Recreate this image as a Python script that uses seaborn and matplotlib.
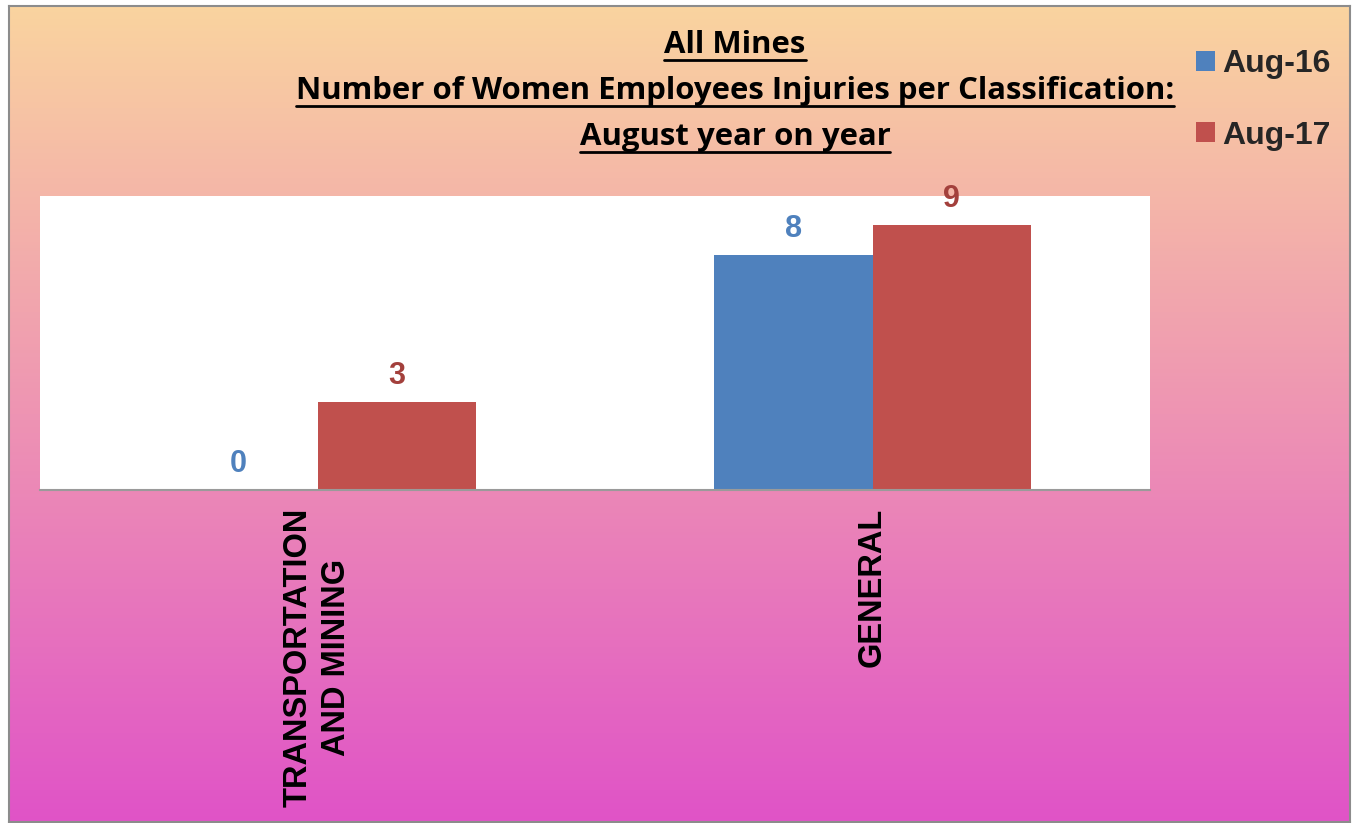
import numpy as np
import pandas as pd
import matplotlib
matplotlib.use("Agg")
import matplotlib.pyplot as plt
from matplotlib.colors import LinearSegmentedColormap
from matplotlib.patches import Patch
from matplotlib.lines import Line2D
import seaborn as sns

# ---- data ----
categories = ["TRANSPORTATION\nAND MINING", "GENERAL"]
series = ["Aug-16", "Aug-17"]
aug16 = [0, 8]
aug17 = [3, 9]
title_lines = ["All Mines",
               "Number of Women Employees Injuries per Classification:",
               "August year on year"]

bar_colors = ["#4F81BD", "#C0504D"]
label_colors = ["#4F81BD", "#A3403C"]

df = pd.DataFrame({
    "category": categories * 2,
    "series": [series[0]] * 2 + [series[1]] * 2,
    "value": aug16 + aug17,
})

sns.set_theme(style="white")
plt.rcParams["font.family"] = ["Liberation Sans", "DejaVu Sans"]

W, H = 1354, 823
fig = plt.figure(figsize=(W / 100, H / 100), dpi=100)
fig.patch.set_facecolor("white")

# gradient background frame
bg = fig.add_axes([9 / W, 1 - 822 / H, (1350 - 9) / W, (822 - 6) / H], zorder=0)
cmap = LinearSegmentedColormap.from_list("bg", ["#FAD49F", "#EE94B3", "#E053C7"])
grad = np.linspace(0, 1, 256).reshape(-1, 1)
bg.imshow(grad, aspect="auto", cmap=cmap, extent=[0, 1, 0, 1], origin="upper")
bg.set_xticks([]); bg.set_yticks([])
for s in bg.spines.values():
    s.set_color("#8C8C8C"); s.set_linewidth(1.5)

ax = fig.add_axes([40 / W, 1 - 490 / H, (1150 - 40) / W, (490 - 196) / H], zorder=1)
ax.set_facecolor("white")
sns.barplot(data=df, x="category", y="value", hue="series", palette=bar_colors,
            width=0.57, gap=0, ax=ax, legend=False, saturation=1)
ax.set_xlim(-0.5, 1.5)
ax.set_ylim(0, 10)
ax.set_xlabel(""); ax.set_ylabel("")
ax.set_yticks([])
for s in ["left", "right", "top"]:
    ax.spines[s].set_visible(False)
ax.spines["bottom"].set_color("#9A9A9A")
ax.spines["bottom"].set_linewidth(1.5)
ax.tick_params(axis="x", length=0, pad=13)
for lab in ax.get_xticklabels():
    lab.set_rotation(90)
    lab.set_fontsize(23.5)
    lab.set_fontweight("bold")
    lab.set_color("black")
    lab.set_multialignment("center")
    lab.set_linespacing(1.3)

for cont, col in zip(ax.containers, label_colors):
    for b in cont:
        b.set_edgecolor("none")
    ax.bar_label(cont, fmt="%d", padding=8, color=col, fontsize=22,
                 fontweight="bold", clip_on=False)

# title (underlined), fitted to the reference width
title_family = ["Open Sans", "DejaVu Sans"]
baselines = [53, 99, 145]
title_texts = []
for line, y in zip(title_lines, baselines):
    t = fig.text(735 / W, 1 - y / H, line, ha="center", va="baseline",
                 fontsize=20, fontweight="bold", family=title_family,
                 color="black")
    title_texts.append(t)

fig.canvas.draw()
r = fig.canvas.get_renderer()
target = 878.0
cur = title_texts[1].get_window_extent(r).width
fs = 20 * target / cur
for t in title_texts:
    t.set_fontsize(fs)
fig.canvas.draw()
for t, y in zip(title_texts, baselines):
    bb = t.get_window_extent(r)
    yline = H - (y + 7)
    fig.add_artist(Line2D([bb.x0 / W, bb.x1 / W], [yline / H, yline / H],
                          color="black", lw=2.0, transform=fig.transFigure))

handles = [Patch(facecolor=c, edgecolor="none") for c in bar_colors]
fig.legend(handles, series, loc="upper left",
           bbox_to_anchor=(1196 / W, 1 - 49 / H), frameon=False,
           prop={"family": ["Liberation Sans"], "weight": "bold", "size": 23},
           handlelength=0.58, handleheight=0.58, handletextpad=0.25,
           labelspacing=1.3, borderpad=0, borderaxespad=0)

fig.savefig("out.png", dpi=100, facecolor="white")
